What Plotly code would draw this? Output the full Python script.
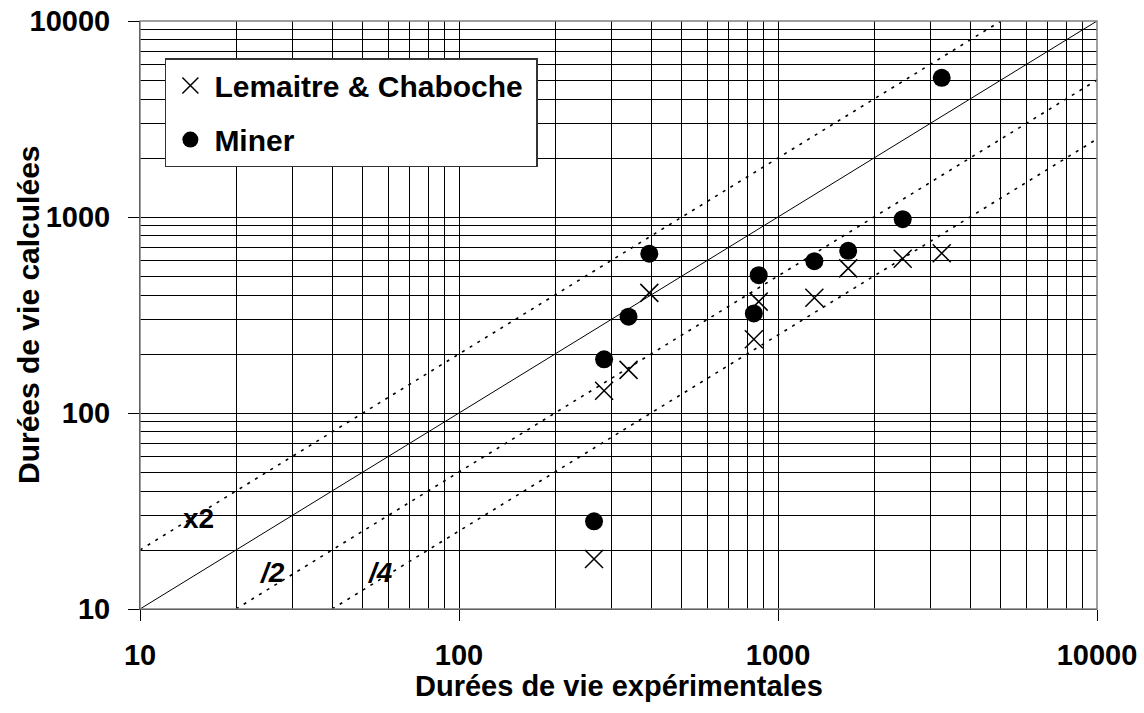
import math
import plotly.graph_objects as go

# Experimental vs computed fatigue lives (cycles)
experimental = [265, 285, 340, 395, 840, 870, 1300, 1660, 2460, 3260]
lemaitre_chaboche = [18, 130, 166, 410, 238, 370, 387, 547, 613, 653]
miner = [28, 188, 310, 650, 322, 505, 595, 672, 975, 5130]

# Scatter-band reference lines: y = k * x
bands = {"x1": 1.0, "x2": 2.0, "/2": 0.5, "/4": 0.25}
axis_min, axis_max = 10, 10000

tick_vals = [10, 100, 1000, 10000]
tick_text = ["10", "100", "1000", "10000"]
minor_vals = [m * 10 ** d for d in range(1, 4) for m in range(2, 10)]

FONT = "Arial, Liberation Sans, Arimo, sans-serif"

fig = go.Figure()

# Reference lines, clipped to the plotting window
for name, k in bands.items():
    x0 = max(axis_min, axis_min / k)
    x1 = min(axis_max, axis_max / k)
    fig.add_trace(go.Scatter(
        x=[x0, x1], y=[k * x0, k * x1], mode="lines",
        line=dict(color="black", width=1 if k == 1.0 else 1.6,
                  dash="solid" if k == 1.0 else "3px,6px"),
        showlegend=False, hoverinfo="skip",
    ))

fig.add_trace(go.Scatter(
    x=experimental, y=lemaitre_chaboche, mode="markers",
    name="Lemaitre & Chaboche\u00a0", legendgroup="lc",
    marker=dict(symbol="x-thin", size=18, color="black",
                line=dict(color="black", width=1.5)),
))
fig.add_trace(go.Scatter(
    x=experimental, y=miner, mode="markers",
    name="Miner", legendgroup="mi",
    marker=dict(symbol="circle", size=18, color="black"),
))

axis_common = dict(
    type="log", range=[1, 4], automargin=False,
    tickvals=tick_vals, ticktext=tick_text,
    ticks="outside", ticklen=11, tickcolor="black", tickwidth=1,
    showline=True, linecolor="black", linewidth=1,
    showgrid=True, gridcolor="black", gridwidth=1,
    minor=dict(tickmode="array", tickvals=minor_vals, showgrid=True,
               gridcolor="black", gridwidth=1, ticklen=0),
    zeroline=False,
    tickfont=dict(family=FONT, size=29, color="black", weight="bold"),
)

fig.update_xaxes(**axis_common, ticklabelstandoff=9)
fig.update_yaxes(**axis_common, ticklabelstandoff=12)

# Plot-area frame
fig.add_shape(type="rect", xref="paper", yref="paper", x0=0, y0=0, x1=1, y1=1,
              line=dict(color="#808080", width=1.5), layer="above")

bold = dict(family=FONT, size=28, color="black", weight="bold")
band_labels = [
    ("x2", 15.3, 28.8, "normal"),
    ("/2", 25.9, 15.3, "italic"),
    ("/4", 56.5, 15.3, "italic"),
]
for txt, lx, ly, style in band_labels:
    fig.add_annotation(x=math.log10(lx), y=math.log10(ly), text=txt,
                       showarrow=False, xanchor="center", yanchor="middle",
                       font=dict(**bold, style=style))

fig.add_annotation(x=0.5, y=-0.131, xref="paper", yref="paper",
                   text="Durées de vie expérimentales", showarrow=False,
                   xanchor="center", yanchor="middle",
                   font=dict(family=FONT, size=29, color="black", weight="bold"))
fig.add_annotation(x=-0.117, y=0.5, xref="paper", yref="paper",
                   text="Durées de vie calculées", showarrow=False,
                   textangle=-90, xanchor="center", yanchor="middle",
                   font=dict(family=FONT, size=30, color="black", weight="bold"))

fig.update_layout(
    width=1144, height=713,
    margin=dict(l=140, r=47, t=21, b=104, autoexpand=False),
    paper_bgcolor="white", plot_bgcolor="white",
    legend=dict(
        x=0.026, y=0.937, xanchor="left", yanchor="top",
        bgcolor="white", bordercolor="#333333", borderwidth=1.5,
        font=dict(family=FONT, size=30, color="black", weight="bold"),
        tracegroupgap=12, itemwidth=38,
    ),
)

fig.write_html("out.html")
